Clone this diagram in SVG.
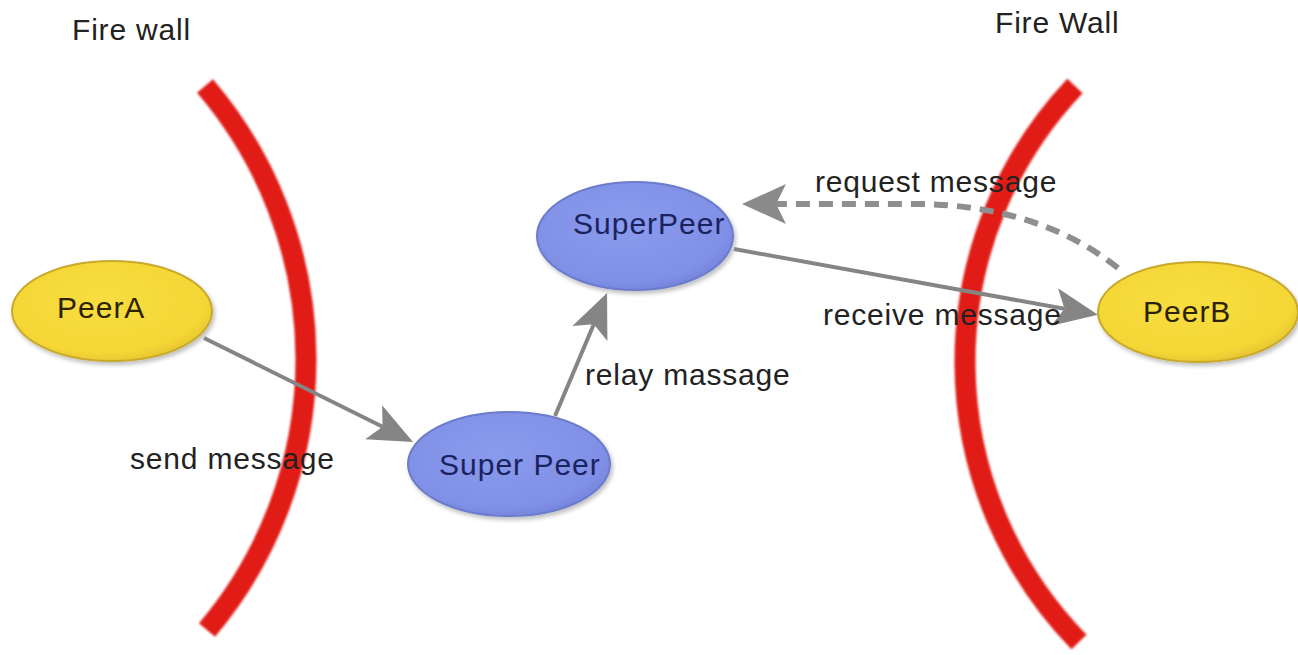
<svg xmlns="http://www.w3.org/2000/svg" width="1298" height="655" viewBox="0 0 1298 655">
  <style>
    .wall { fill: none; stroke: #e11d19; stroke-width: 21; stroke-linecap: butt; filter: url(#soft); }
    .label { font-family: "Liberation Sans", Arial, sans-serif; font-size: 30px; letter-spacing: 0.8px; fill: #222222; }
    .ntext { font-family: "Liberation Sans", Arial, sans-serif; font-size: 30px; letter-spacing: 1px; }
    .peer { fill: url(#yellowFill); stroke: #c9a92c; stroke-width: 2; filter: url(#shadow); }
    .super { fill: url(#blueFill); stroke: #6c7bcc; stroke-width: 2; filter: url(#shadow); }
    .edge { fill: none; stroke: #858585; stroke-width: 4; }
    .dashed { fill: none; stroke: #8e8e8e; stroke-width: 6; stroke-dasharray: 14 9; }
  </style>
  <defs>
    <filter id="soft" x="-20%" y="-5%" width="140%" height="110%">
      <feGaussianBlur stdDeviation="1"/>
    </filter>
    <filter id="shadow" x="-10%" y="-10%" width="125%" height="130%">
      <feGaussianBlur in="SourceAlpha" stdDeviation="2"/>
      <feOffset dx="2" dy="3"/>
      <feComponentTransfer><feFuncA type="linear" slope="0.25"/></feComponentTransfer>
      <feMerge><feMergeNode/><feMergeNode in="SourceGraphic"/></feMerge>
    </filter>
    <radialGradient id="yellowFill" cx="45%" cy="40%" r="65%">
      <stop offset="0" stop-color="#f9de40"/>
      <stop offset="0.8" stop-color="#f4d636"/>
      <stop offset="1" stop-color="#e0c030"/>
    </radialGradient>
    <radialGradient id="blueFill" cx="45%" cy="40%" r="65%">
      <stop offset="0" stop-color="#8a9aec"/>
      <stop offset="0.8" stop-color="#8090e6"/>
      <stop offset="1" stop-color="#7080d6"/>
    </radialGradient>
    <!-- notched arrowhead; the line ends at the notch, the tip lies 34px further on -->
    <marker id="head" markerUnits="userSpaceOnUse" viewBox="-12 -20 48 40" markerWidth="48" markerHeight="40" refX="0" refY="0" orient="auto" overflow="visible">
      <path d="M 34 0 L -10 -19 L 0 0 L -10 19 Z" fill="#858585"/>
    </marker>
    <marker id="headLight" markerUnits="userSpaceOnUse" viewBox="-12 -20 48 40" markerWidth="48" markerHeight="40" refX="0" refY="0" orient="auto" overflow="visible">
      <path d="M 34 0 L -10 -20 L 0 0 L -10 20 Z" fill="#8a8a8a"/>
    </marker>
  </defs>

  <rect width="1298" height="655" fill="#ffffff"/>

  <!-- firewalls -->
  <g id="firewall-left">
    <path class="wall" d="M 205 86 A 420 420 0 0 1 207 630"/>
  </g>
  <g id="firewall-right">
    <path class="wall" d="M 1075 86 A 401 401 0 0 0 1079 642"/>
  </g>

  <text class="label" x="72" y="40">Fire wall</text>
  <text class="label" x="995" y="33">Fire Wall</text>

  <!-- nodes -->
  <g id="peerA">
    <ellipse class="peer" cx="112" cy="311" rx="100" ry="50"/>
    <text class="ntext" x="57" y="318" fill="#2a2200">PeerA</text>
  </g>
  <g id="superPeerTop">
    <ellipse class="super" cx="635" cy="236" rx="98" ry="54"/>
    <text class="ntext" x="573" y="234" fill="#1b2260">SuperPeer</text>
  </g>
  <g id="superPeerBottom">
    <ellipse class="super" cx="509" cy="464" rx="101" ry="52"/>
    <text class="ntext" x="439" y="475" fill="#1b2260">Super Peer</text>
  </g>
  <g id="peerB">
    <ellipse class="peer" cx="1198" cy="312" rx="100" ry="50"/>
    <text class="ntext" x="1143" y="322" fill="#2a2200">PeerB</text>
  </g>

  <!-- connectors -->
  <g id="connectors">
    <path class="edge" d="M 204 338 L 382.6 426.8" marker-end="url(#head)"/>
    <path class="edge" d="M 555 416 L 593.8 324.3" marker-end="url(#head)"/>
    <path class="edge" d="M 734 249 L 1064.5 308.8" marker-end="url(#head)"/>
    <path class="dashed" d="M 1118 268 Q 1040 206 920 204 L 776 204" marker-end="url(#headLight)"/>
  </g>

  <!-- edge labels -->
  <text class="label" x="130" y="469">send message</text>
  <text class="label" x="585" y="385">relay massage</text>
  <text class="label" x="815" y="192">request message</text>
  <text class="label" x="823" y="325">receive message</text>
</svg>
